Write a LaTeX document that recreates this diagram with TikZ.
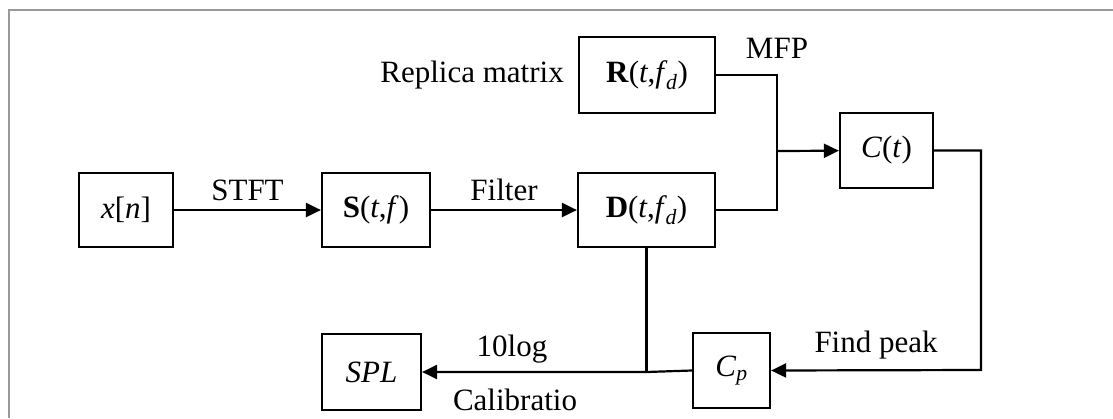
\documentclass[tikz,border=0pt]{standalone}
\usepackage{fontspec}
\setmainfont{Liberation Serif}
\usetikzlibrary{arrows.meta}
\tikzset{
    block/.style = {draw=black, fill=white, line width=2.2pt, rectangle, inner sep=0pt, minimum height=74pt},
    flow/.style = {line width=2.2pt, -{Triangle[length=15pt,width=14pt]}},
    wire/.style = {line width=2.2pt},
    tag/.style = {inner sep=0pt},
}
\newcommand{\fd}{\textit{f}\kern-1.5pt\textsubscript{\textit{d}}}

\begin{document}
\begin{tikzpicture}[x=1pt, y=-1pt, font=\fontsize{31}{37}\selectfont]
\useasboundingbox (0,0) rectangle (1113,418);
% frame
\draw[gray!80, line width=2.4pt] (9,418) -- (9,10) -- (1113,10);

% blocks
\node [block, minimum width=94pt] (x) at (126,210) {\textit{x}[\textit{n}]};
\node [block, minimum width=108pt] (S) at (376,210) {\textbf{S}(\textit{t},\textit{f})};
\node [block, minimum width=137pt] (D) at (646.5,210) {\textbf{D}(\textit{t},\fd)};
\node [block, minimum width=136pt, minimum height=76pt] (R) at (647,75) {\textbf{R}(\textit{t},\fd)};
\node [block, minimum width=93pt, minimum height=75pt] (C) at (886.5,150.5) {\textit{C}(\textit{t})};
\node [block, minimum width=77pt, minimum height=75pt] (Cp) at (731.5,370.5) {\textit{C}\textsubscript{\textit{p}}};
\node [block, minimum width=99pt, minimum height=76pt] (SPL) at (371.5,372) {\textit{SPL}};

\node [tag, left=14pt] at (R.west) {Replica matrix};

% junctions
\coordinate (mfp) at (777,151);
\coordinate (loop) at (981,370);
\coordinate (tap) at (D.south |- SPL.east);

% connectors
\draw [flow] (x) -- node[tag, above=8pt] {STFT} (S);
\draw [flow] (S) -- node[tag, above=8pt] {Filter} (D);
\draw [wire] (D.east) -| (mfp) |- (R.east);
\node [tag] at (777,48) {MFP};
\draw [flow] (mfp) -- (C);
\draw [flow] (C.east) -| (loop) -- node[tag, above=10pt] {Find peak} (Cp.east);
\draw [wire] (D.south) -- (tap);
\draw [flow] (Cp.west) -- (tap) -- (SPL.east);
\node [tag] at (512,349) {10log};
\node [tag] at (515,400) {Calibratio};
\end{tikzpicture}
\end{document}
